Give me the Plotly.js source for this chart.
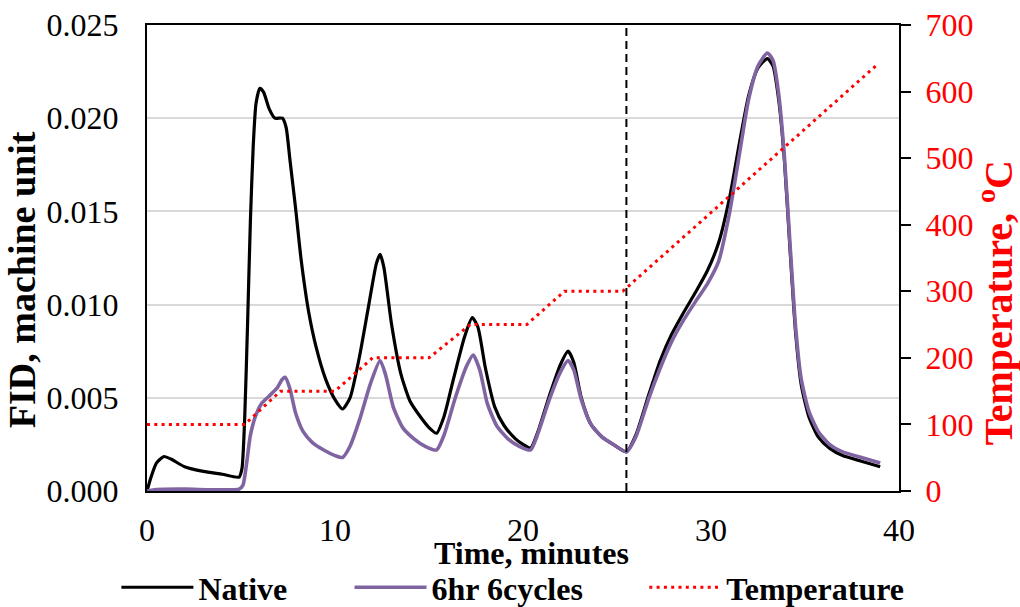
<!DOCTYPE html>
<html>
<head>
<meta charset="utf-8">
<script src="https://cdn.plot.ly/plotly-3.0.1.min.js"></script>
<style>html,body{margin:0;padding:0;background:#fff;}#chart{width:1020px;height:607px;}</style>
</head>
<body>
<div id="chart"></div>
<script>
// ---- data ----
const nativeTime = [0,0.2,0.5,0.9,1.3,2.0,3.0,4.0,4.9,5.05,5.2,5.35,5.5,5.65,5.8,6.0,6.2,6.5,6.8,7.2,7.4,7.6,7.9,8.2,8.6,9.0,9.5,10.0,10.4,10.8,11.3,11.8,12.2,12.4,12.6,13.0,13.5,14.0,14.6,15.0,15.4,15.8,16.3,16.9,17.3,17.6,18.0,18.5,19.0,19.6,20.0,20.4,20.8,21.4,22.0,22.4,22.7,23.1,23.6,24.2,24.8,25.5,26.0,26.7,27.3,27.9,28.5,29.2,29.8,30.4,31.0,31.5,32.0,32.5,33.0,33.3,33.6,33.9,34.2,34.5,34.8,35.2,35.7,36.3,37.0,38.0,39.0];
const nativeFID = [0,0.0007,0.0015,0.00185,0.0017,0.0013,0.00105,0.0009,0.00075,0.0012,0.004,0.009,0.0145,0.0185,0.0208,0.0216,0.0214,0.0205,0.0200,0.0200,0.0195,0.0178,0.0152,0.0124,0.0096,0.0077,0.0060,0.0049,0.0044,0.0050,0.0072,0.0100,0.0122,0.0127,0.0120,0.0090,0.0063,0.0048,0.0039,0.0034,0.0031,0.0040,0.0060,0.0083,0.0093,0.0088,0.0066,0.0045,0.0035,0.0028,0.0025,0.0023,0.0032,0.0051,0.0068,0.0075,0.0069,0.0050,0.0036,0.0029,0.0025,0.0021,0.0030,0.0052,0.0070,0.0084,0.0095,0.0107,0.0118,0.0133,0.0158,0.0186,0.0212,0.0227,0.0232,0.0228,0.0210,0.0178,0.0130,0.0085,0.0057,0.0040,0.0029,0.0023,0.0019,0.0016,0.0013];

const cycTime = [0,0.5,2.0,4.9,5.1,5.3,5.5,5.8,6.1,6.5,6.9,7.2,7.35,7.6,7.9,8.3,8.8,9.4,10.0,10.4,10.8,11.3,11.9,12.4,12.7,13.1,13.6,14.2,14.8,15.4,15.8,16.4,17.0,17.35,17.7,18.1,18.6,19.2,19.8,20.4,20.8,21.4,22.0,22.4,22.7,23.1,23.6,24.2,24.8,25.5,26.0,26.7,27.3,27.9,28.5,29.2,29.8,30.4,31.0,31.5,32.0,32.5,33.0,33.3,33.6,33.9,34.2,34.5,34.8,35.2,35.7,36.3,37.0,38.0,39.0];
const cycFID = [0,0.00008,0.0001,0.0001,0.0003,0.0015,0.0030,0.0041,0.0047,0.0051,0.0055,0.0060,0.0061,0.0055,0.0042,0.0032,0.0026,0.0022,0.0019,0.0018,0.0024,0.0038,0.0058,0.0070,0.0062,0.0045,0.0034,0.0028,0.0024,0.0022,0.0030,0.0050,0.0067,0.0073,0.0065,0.0047,0.0035,0.0028,0.0024,0.0022,0.0031,0.0049,0.0064,0.0070,0.0065,0.0049,0.0036,0.0029,0.0025,0.0021,0.0029,0.0050,0.0066,0.0080,0.0091,0.0102,0.0111,0.0123,0.0150,0.0180,0.0210,0.0228,0.0235,0.0231,0.0213,0.0180,0.0133,0.0088,0.0060,0.0043,0.0032,0.0025,0.0021,0.0018,0.0015];

const tempTime = [0,5.2,7.1,10.0,12.0,15.0,17.2,20.2,22.2,25.3,38.9];
const tempC    = [100,100,150,150,200,200,250,250,300,300,642];

const markerTime = [25.5];   // vertical dashed reference line
const seriesNames = ['Native','6hr 6cycles','Temperature'];
const xTitle = 'Time, minutes';
const yTitle = 'FID, machine unit';
const y2Title = 'Temperature, <sup>o</sup>C';

// ---- chart ----
const FONT = '"Liberation Serif","Times New Roman",serif';
const TICK = 32, TITLE = 32;
const traces = [
  {x: nativeTime, y: nativeFID, name: seriesNames[0], type: 'scatter', mode: 'lines', legend: 'legend',
   line: {color: '#000000', width: 3.2, shape: 'spline', smoothing: 0.6}},
  {x: cycTime, y: cycFID, name: seriesNames[1], type: 'scatter', mode: 'lines', legend: 'legend2',
   line: {color: '#8064A2', width: 3.6, shape: 'spline', smoothing: 0.6}},
  {x: tempTime, y: tempC, name: seriesNames[2], type: 'scatter', mode: 'lines', yaxis: 'y2', legend: 'legend3',
   line: {color: '#FF0000', width: 3, dash: '3px,4.3px'}}
];

function leg(x) {
  return {orientation: 'h', x: x, xanchor: 'left', y: -0.207, yanchor: 'middle',
          font: {family: FONT, size: TITLE, weight: 'bold', color: '#000'},
          itemwidth: 72, bgcolor: 'rgba(0,0,0,0)', borderwidth: 0};
}

const layout = {
  width: 1020, height: 607,
  margin: {l: 147, r: 121, t: 25, b: 116, autoexpand: false},
  paper_bgcolor: '#ffffff', plot_bgcolor: '#ffffff',
  font: {family: FONT, size: TICK, color: '#000'},
  showlegend: true,
  legend: leg(-0.0407), legend2: leg(0.2693), legend3: leg(0.6613),
  xaxis: {range: [0, 40], dtick: 10, tick0: 0, showgrid: false, zeroline: false,
          showline: true, linecolor: '#000', linewidth: 2, mirror: true, ticks: '',
          ticklabelstandoff: 10,
          tickfont: {family: FONT, size: TICK, color: '#000'}},
  yaxis: {range: [0, 0.025], dtick: 0.005, tick0: 0, tickformat: '.3f',
          showgrid: true, gridcolor: '#d9d9d9', gridwidth: 2, zeroline: false,
          showline: true, linecolor: '#000', linewidth: 2, ticks: '',
          ticklabelstandoff: 20,
          tickfont: {family: FONT, size: TICK, color: '#000'}},
  yaxis2: {range: [0, 700], dtick: 100, tick0: 0, overlaying: 'y', side: 'right',
           showgrid: false, zeroline: false, showline: true, linecolor: '#000', linewidth: 2,
           ticks: 'outside', ticklen: 10, tickwidth: 2, tickcolor: '#000',
           ticklabelstandoff: 8,
           tickfont: {family: FONT, size: TICK, color: '#FF0000'}},
  annotations: [
    {text: xTitle, xref: 'paper', yref: 'paper', x: 0.511, y: -0.133,
     xanchor: 'center', yanchor: 'middle', showarrow: false,
     font: {family: FONT, size: TITLE, weight: 'bold', color: '#000'}},
    {text: yTitle, xref: 'paper', yref: 'paper', x: -0.166, y: 0.4528, textangle: -90,
     xanchor: 'center', yanchor: 'middle', showarrow: false,
     font: {family: FONT, size: 38, weight: 'bold', color: '#000'}},
    {text: y2Title, xref: 'paper', yref: 'paper', x: 1.128, y: 0.4034, textangle: -90,
     xanchor: 'center', yanchor: 'middle', showarrow: false,
     font: {family: FONT, size: 40, weight: 'bold', color: '#FF0000'}}
  ],
  shapes: markerTime.map(t => ({type: 'line', xref: 'x', yref: 'paper', x0: t, x1: t, y0: 0, y1: 1,
                                line: {color: '#000', width: 2, dash: '8px,5px'}}))
};

Plotly.newPlot('chart', traces, layout, {staticPlot: true, displayModeBar: false});
</script>
</body>
</html>
